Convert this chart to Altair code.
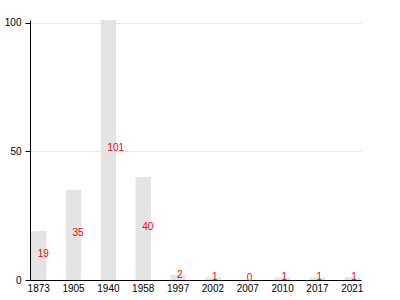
import altair as alt
import pandas as pd

years = ["1873", "1905", "1940", "1958", "1997", "2002", "2007", "2010", "2017", "2021"]
counts = [19, 35, 101, 40, 2, 1, 0, 1, 1, 1]

df = pd.DataFrame({"year": years, "count": counts})
df["half"] = df["count"] / 2

x = alt.X("year:N", sort=years, title=None,
          scale=alt.Scale(paddingInner=0.56, paddingOuter=0.03),
          axis=alt.Axis(labelAngle=0, ticks=False, labelPadding=3, labelFontSize=10,
                        labelColor="black", domainColor="black", labelFont="Liberation Sans"))

bars = alt.Chart(df).mark_bar(color="#e4e4e4").encode(
    x=x,
    y=alt.Y("count:Q", title=None,
            scale=alt.Scale(domain=[0, 101], nice=False),
            axis=alt.Axis(values=[0, 50, 100], tickSize=5, labelPadding=4, labelFontSize=10,
                          labelColor="black", domainColor="black", tickColor="black",
                          gridColor="#e8e8e8", labelFont="Liberation Sans")),
)

labels = alt.Chart(df).mark_text(color="red", align="left", baseline="alphabetic", dy=1,
                                 dx=-1, fontSize=10, font="Liberation Sans").encode(
    x=alt.X("year:N", sort=years),
    y=alt.Y("half:Q"),
    text=alt.Text("count:Q"),
)

chart = (bars + labels).properties(
    width=331, height=260,
    padding={"left": 30, "top": 20, "right": 9, "bottom": 20},
    autosize="none",
).configure_view(stroke=None).configure_axisX(grid=False)

chart.save("out.html", embed_options={"renderer": "svg", "actions": False})
